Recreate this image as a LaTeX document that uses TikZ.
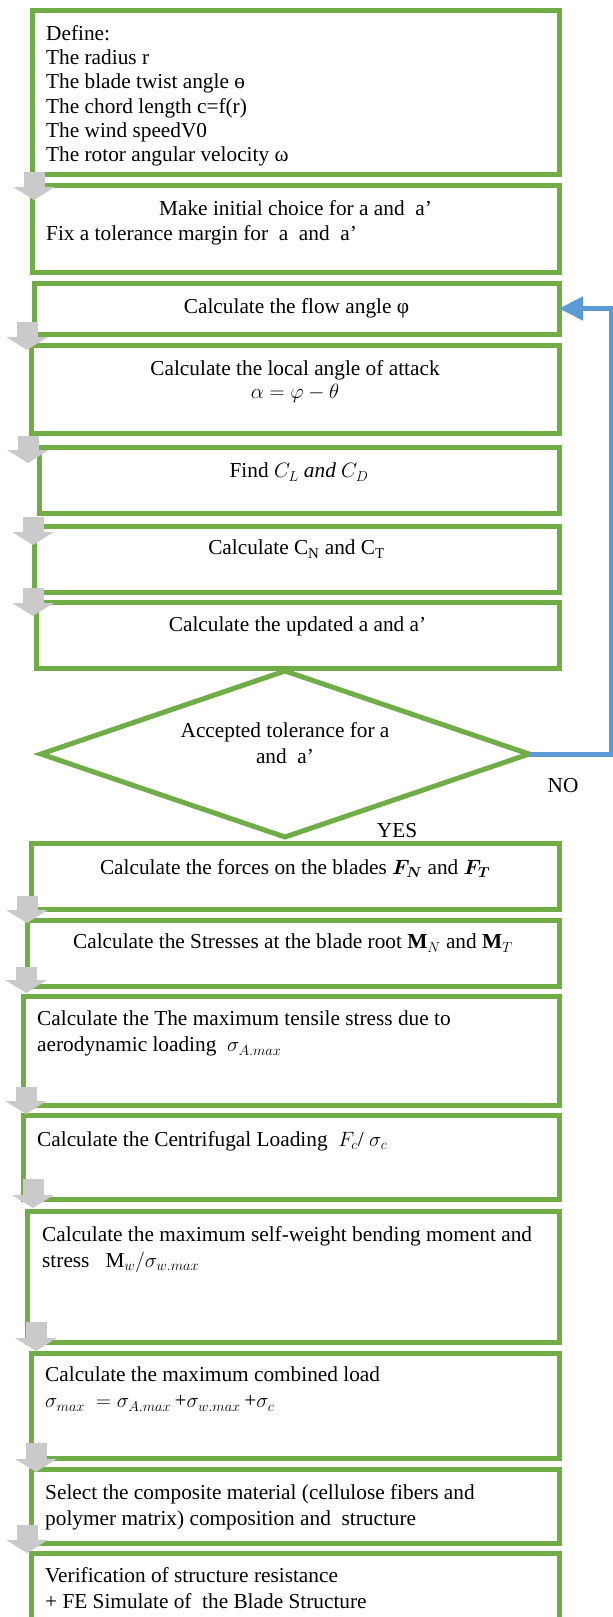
\documentclass[tikz,border=0pt]{standalone}
\usepackage{amsmath,bm}
\usepackage{fontspec}
\setmainfont{Liberation Serif}
\usepackage{tikz}
\usetikzlibrary{arrows.meta,shapes.geometric,calc,positioning}
\definecolor{boxgreen}{RGB}{112,173,71}
\definecolor{loopblue}{RGB}{91,155,213}
\definecolor{stepgray}{RGB}{202,202,202}

\tikzset{
  box/.style={draw=boxgreen, line width=5pt, anchor=north west, inner sep=0pt, outer sep=0pt},
  txt/.style={inner sep=0pt, font=\fontsize{21.3}{26}\selectfont},
  blockarrow/.style={draw=stepgray, line width=21pt, -{Triangle[width=41pt,length=13pt]}},
  loopline/.style={draw=loopblue, line width=5pt, -{Triangle[width=23pt,length=24pt]}}
}

\begin{document}
\begin{tikzpicture}[x=1pt, y=-1pt]
  \useasboundingbox (0,0) rectangle (613,1617);
  \fill[white] (0,0) rectangle (613,1617);
  \clip (0,0) rectangle (613,1617);

  % Input data
  \node[box, minimum width=527pt, minimum height=164pt] (define) at (32,10) {};
  \node[txt, font=\fontsize{21.3}{24.3}\selectfont, align=left, below right=15pt and 14pt of define.north west] (defineText)
    {Define:\\ The radius r\\ The blade twist angle ө\\ The chord length c=f(r)\\
     The wind speedV0\\ The rotor angular velocity ω};

  \node[box, minimum width=527pt, minimum height=87pt] (init) at (32,185) {};
  \node[txt, below=15pt of init.north] (initText) {Make initial choice for a and~ a’};
  \node[txt, below right=40pt and 14pt of init.north west] (initTol) {Fix a tolerance margin for~ a~ and~ a’};

  % Iteration loop
  \node[box, minimum width=525pt, minimum height=51pt] (flow) at (34,283) {};
  \node[txt, below=15pt of flow.north] (flowText) {Calculate the flow angle φ};

  \node[box, minimum width=528pt, minimum height=88pt] (attack) at (31,345) {};
  \node[txt, font=\fontsize{21.3}{23}\selectfont, align=center, below=15pt of attack.north] (attackText)
    {Calculate the local angle of attack\\ $\alpha=\varphi-\theta$};

  \node[box, minimum width=520pt, minimum height=66pt] (coeff) at (39,447) {};
  \node[txt, below=16pt of coeff.north] (coeffText) {Find $C_L\ \mathit{and}\ C_D$};

  \node[box, minimum width=525pt, minimum height=66pt] (cncf) at (34,526) {};
  \node[txt, below=14pt of cncf.north] (cncfText) {Calculate C\textsubscript{N} and C\textsubscript{T}};

  \node[box, minimum width=523pt, minimum height=66pt] (update) at (36,602) {};
  \node[txt, below=15pt of update.north] (updateText) {Calculate the updated a and a’};

  % Tolerance check
  \node[diamond, draw=boxgreen, line width=5pt, inner sep=0pt, outer sep=0pt,
        minimum width=488pt, minimum height=166pt] (tol) at (285,754) {};
  \node[txt, align=center] (tolText) at ($(tol.center)+(0,-11)$) {Accepted tolerance for a\\ and~ a’};
  \node[txt] (no) at ($(tol.east)+(34,32)$) {NO};
  \node[txt] (yes) at ($(tol.south)+(112,-6)$) {YES};

  \coordinate (loopc) at (611,0 |- flow.east);
  \draw[loopline] (tol.east) -| (loopc) -- (flow.east);

  % Structural analysis
  \node[box, minimum width=528pt, minimum height=66pt] (forces) at (31,843) {};
  \node[txt, below=16pt of forces.north] (forcesText) {Calculate the forces on the blades $\bm{F_N}$ and $\bm{F_T}$};

  \node[box, minimum width=532pt, minimum height=66pt] (stress) at (27,920) {};
  \node[txt, below=14pt of stress.north] (stressText) {Calculate the Stresses at the blade root $\mathbf{M}_N$ and $\mathbf{M}_T$};

  \node[box, minimum width=535.5pt, minimum height=109pt] (tensile) at (23.5,996) {};
  \node[txt, align=left, below right=15pt and 13.5pt of tensile.north west] (tensileText)
    {Calculate the The maximum tensile stress due to\\ aerodynamic loading~ $\sigma_{A.max}$};

  \node[box, minimum width=535.5pt, minimum height=84pt] (centri) at (23.5,1115) {};
  \node[txt, below right=16pt and 13.5pt of centri.north west] (centriText)
    {Calculate the Centrifugal Loading~ $F_c$/ $\sigma_c$};

  \node[box, minimum width=532pt, minimum height=131pt] (selfw) at (27,1211) {};
  \node[txt, align=left, below right=15pt and 15pt of selfw.north west] (selfwText)
    {Calculate the maximum self-weight bending moment and\\ stress~~ $\mathrm{M}_w/\sigma_{w.max}$};

  \node[box, minimum width=528pt, minimum height=105pt] (combined) at (31,1353) {};
  \node[txt, align=left, below right=14pt and 14pt of combined.north west] (combinedText)
    {Calculate the maximum combined load\\ $\sigma_{max}\ = \sigma_{A.max}$\,+$\sigma_{w.max}$\,+$\sigma_c$};

  \node[box, minimum width=528pt, minimum height=74pt] (material) at (31,1469) {};
  \node[txt, align=left, below right=15pt and 14pt of material.north west] (materialText)
    {Select the composite material (cellulose fibers and\\ polymer matrix) composition and~ structure};

  \node[box, minimum width=528pt, minimum height=100pt] (verify) at (31,1553) {};
  \node[txt, align=left, below right=14pt and 14pt of verify.north west] (verifyText)
    {Verification of structure resistance\\ + FE Simulate of~ the Blade Structure};

  % Grey step arrows
  \foreach \src/\dst/\px/\sy/\ey in {define/init/34/-2/15, flow/attack/27/-12/5,
      attack/coeff/28/3/16, coeff/cncf/33/4/19, cncf/update/33/-4/14,
      forces/stress/27/-13/3, stress/tensile/26/-19/-3, tensile/centri/26/-18/-1,
      centri/selfw/33/-20/-3, selfw/combined/36/-20/-2, combined/material/36/-15/3,
      material/verify/27/-18/0}
    \draw[blockarrow] ($(\px,0 |- \src.south)+(0,\sy)$) -- ($(\px,0 |- \dst.north)+(0,\ey)$);
\end{tikzpicture}
\end{document}
